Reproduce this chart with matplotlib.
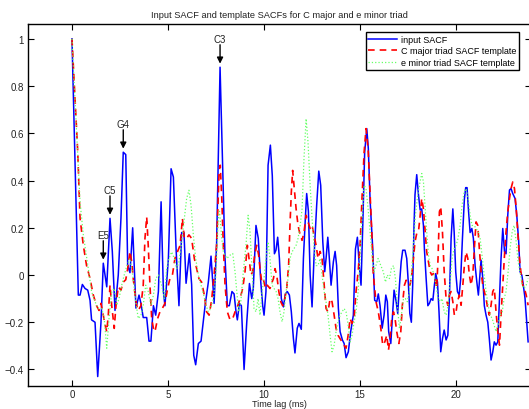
import matplotlib
matplotlib.use('Agg')
import matplotlib.pyplot as plt

plt.rcParams['font.family'] = ['Liberation Sans', 'DejaVu Sans']

# input SACF (time lag in ms, value)
input_t = [0, 0.33, 0.42, 0.54, 0.68, 0.82, 0.94, 1.02, 1.2, 1.34, 1.51, 1.63, 1.81, 1.98,
           2.1, 2.24, 2.41, 2.55, 2.67, 2.8, 2.9, 3.02, 3.16, 3.33, 3.49, 3.59, 3.71, 3.89,
           4.01, 4.11, 4.24, 4.36, 4.5, 4.64, 4.76, 4.84, 5.02, 5.16, 5.28, 5.42, 5.57, 5.71,
           5.83, 5.94, 6.11, 6.23, 6.34, 6.44, 6.58, 6.72, 6.93, 7.1, 7.24, 7.4, 7.53, 7.71,
           7.88, 7.97, 8.09, 8.19, 8.33, 8.44, 8.54, 8.61, 8.72, 8.82, 8.96, 9.1, 9.24, 9.36,
           9.44, 9.58, 9.7, 9.83, 9.93, 10.0, 10.1, 10.21, 10.33, 10.43, 10.54, 10.62, 10.71,
           10.8, 10.9, 11.01, 11.11, 11.21, 11.32, 11.42, 11.53, 11.61, 11.73, 11.82, 11.94,
           12.05, 12.15, 12.22, 12.31, 12.4, 12.5, 12.6, 12.74, 12.85, 12.95, 13.06, 13.16,
           13.23, 13.32, 13.4, 13.49, 13.61, 13.7, 13.78, 13.87, 13.96, 14.08, 14.17, 14.27,
           14.39, 14.51, 14.65, 14.76, 14.86, 14.97, 15.05, 15.14, 15.24, 15.35, 15.43, 15.52,
           15.66, 15.76, 15.87, 15.95, 16.04, 16.15, 16.25, 16.34, 16.42, 16.49, 16.6, 16.7,
           16.77, 16.88, 16.96, 17.05, 17.14, 17.22, 17.34, 17.43, 17.52, 17.59, 17.67, 17.74,
           17.81, 17.86, 17.95, 18.04, 18.13, 18.21, 18.3, 18.35, 18.44, 18.53, 18.61, 18.7,
           18.79, 18.87, 18.94, 19.03, 19.11, 19.2, 19.29, 19.38, 19.48, 19.57, 19.65, 19.74,
           19.83, 19.9, 19.98, 20.07, 20.16, 20.24, 20.33, 20.43, 20.5, 20.57, 20.64, 20.73,
           20.82, 20.9, 20.99, 21.08, 21.16, 21.25, 21.3, 21.39, 21.47, 21.56, 21.65, 21.73,
           21.82, 21.91, 21.99, 22.08, 22.17, 22.26, 22.34, 22.43, 22.52, 22.6, 22.69, 22.78,
           22.86, 22.95, 23.07, 23.16, 23.26, 23.33, 23.42, 23.49, 23.59, 23.68, 23.75]
input_v = [1.0, -0.085, -0.085, -0.04, -0.057, -0.064, -0.107, -0.19, -0.2, -0.43, -0.2, 0.05,
           -0.05, 0.24, 0.1, -0.15, 0.0, 0.24, 0.52, 0.51, 0.04, 0.01, 0.2, -0.14, -0.085,
           -0.12, -0.18, -0.18, -0.28, -0.28, -0.13, -0.17, -0.07, 0.31, -0.07, -0.13, 0.07,
           0.45, 0.415, 0.11, -0.13, 0.18, 0.18, -0.035, 0.09, -0.04, -0.34, -0.38, -0.29,
           -0.28, -0.13, -0.03, 0.08, -0.12, 0.13, 0.88, 0.35, 0.07, -0.13, -0.13, -0.07,
           -0.08, -0.155, -0.19, -0.12, -0.13, -0.4, -0.2, -0.036, -0.1, -0.057, 0.21, 0.155,
           -0.03, -0.13, -0.17, -0.07, 0.465, 0.55, 0.42, 0.09, 0.105, 0.16, 0.07, -0.1,
           -0.135, -0.08, -0.07, -0.085, -0.155, -0.27, -0.33, -0.225, -0.205, -0.23, 0.07,
           0.24, 0.345, 0.27, 0.0, -0.135, 0.07, 0.295, 0.44, 0.38, 0.14, 0.014, 0.07, 0.16,
           0.07, -0.043, 0.056, 0.1, 0.04, -0.14, -0.24, -0.275, -0.29, -0.35, -0.325, -0.24,
           -0.17, 0.11, 0.16, 0.028, -0.043, 0.21, 0.52, 0.62, 0.535, 0.32, 0.11, -0.107,
           -0.113, -0.08, -0.13, -0.225, -0.17, -0.085, -0.113, -0.24, -0.29, -0.155, -0.064,
           -0.113, -0.163, -0.043, 0.056, 0.105, 0.105, 0.07, -0.043, -0.163, -0.2, -0.043,
           0.21, 0.34, 0.425, 0.34, 0.275, 0.28, 0.21, 0.11, -0.015, -0.13, -0.12, -0.1,
           -0.107, -0.043, 0.006, -0.03, -0.155, -0.325, -0.27, -0.233, -0.275, -0.255, -0.1,
           0.155, 0.28, 0.18, 0.014, -0.07, -0.085, -0.015, 0.155, 0.32, 0.37, 0.37, 0.28,
           0.18, 0.197, 0.155, 0.04, -0.03, -0.085, 0.014, 0.063, -0.015, -0.13, -0.17, -0.2,
           -0.27, -0.36, -0.325, -0.283, -0.297, -0.283, -0.1, 0.07, 0.197, 0.1, 0.09, 0.253,
           0.36, 0.366, 0.345, 0.324, 0.253, 0.14, 0.014, 0.0, -0.036, -0.1, -0.2, -0.283]

# C major triad SACF template
cmaj_t = [0, 0.3, 0.42, 0.59, 0.76, 0.94, 1.11, 1.28, 1.41, 1.51, 1.63, 1.72, 1.81, 1.89,
          1.98, 2.07, 2.2, 2.29, 2.41, 2.55, 2.67, 2.8, 2.9, 3.02, 3.11, 3.19, 3.28, 3.37,
          3.45, 3.59, 3.71, 3.8, 3.89, 3.97, 4.06, 4.15, 4.24, 4.32, 4.46, 4.58, 4.7, 4.84,
          4.98, 5.1, 5.23, 5.36, 5.5, 5.63, 5.75, 5.85, 5.97, 6.09, 6.23, 6.37, 6.49, 6.61,
          6.75, 6.89, 7.01, 7.14, 7.27, 7.4, 7.53, 7.66, 7.72, 7.8, 7.88, 7.97, 8.09, 8.23,
          8.37, 8.49, 8.61, 8.75, 8.89, 9.01, 9.13, 9.24, 9.32, 9.41, 9.51, 9.62, 9.72, 9.79,
          9.88, 9.97, 10.07, 10.17, 10.31, 10.42, 10.49, 10.57, 10.66, 10.77, 10.87, 10.97,
          11.08, 11.18, 11.28, 11.35, 11.42, 11.49, 11.56, 11.67, 11.77, 11.88, 11.98, 12.08,
          12.19, 12.29, 12.4, 12.5, 12.6, 12.71, 12.81, 12.92, 13.02, 13.13, 13.23, 13.33,
          13.44, 13.54, 13.65, 13.75, 13.85, 13.96, 14.06, 14.17, 14.27, 14.38, 14.48, 14.58,
          14.69, 14.79, 14.9, 15.0, 15.1, 15.21, 15.31, 15.42, 15.52, 15.61, 15.69, 15.83,
          15.95, 16.08, 16.18, 16.29, 16.39, 16.48, 16.56, 16.65, 16.74, 16.82, 16.91, 17.02,
          17.12, 17.2, 17.31, 17.4, 17.52, 17.6, 17.69, 17.78, 17.86, 17.95, 18.04, 18.13,
          18.21, 18.3, 18.39, 18.47, 18.56, 18.65, 18.73, 18.82, 18.91, 18.99, 19.06, 19.13,
          19.2, 19.29, 19.38, 19.48, 19.57, 19.65, 19.74, 19.83, 19.91, 20.0, 20.07, 20.17,
          20.26, 20.35, 20.43, 20.52, 20.61, 20.69, 20.78, 20.87, 20.95, 21.04, 21.13, 21.21,
          21.3, 21.39, 21.47, 21.56, 21.65, 21.73, 21.82, 21.91, 21.99, 22.08, 22.17, 22.26,
          22.34, 22.43, 22.52, 22.6, 22.69, 22.78, 22.86, 22.95, 23.04, 23.13, 23.21, 23.3,
          23.39, 23.47, 23.56, 23.65, 23.75]
cmaj_v = [1.0, 0.52, 0.24, 0.126, 0.04, -0.015, -0.085, -0.13, -0.15, -0.12, -0.17, -0.21,
          -0.24, -0.17, -0.043, -0.13, -0.226, -0.13, -0.05, -0.064, -0.03, -0.02, 0.027, 0.1,
          0.056, -0.015, -0.08, -0.13, -0.15, -0.13, -0.043, 0.155, 0.246, 0.126, -0.043,
          -0.184, -0.226, -0.24, -0.184, -0.156, -0.142, -0.12, -0.057, -0.015, 0.0, 0.07,
          0.1, 0.126, 0.24, 0.155, 0.155, 0.17, 0.155, 0.07, 0.027, -0.015, -0.03, -0.085,
          -0.156, -0.17, -0.107, 0.0, 0.126, 0.437, 0.465, 0.324, 0.126, -0.043, -0.156, -0.19,
          -0.184, -0.156, -0.135, -0.1, -0.057, 0.014, 0.126, 0.056, 0.0, 0.014, 0.084, 0.126,
          0.084, 0.027, -0.03, -0.02, -0.057, -0.043, -0.057, -0.03, -0.015, 0.027, 0.0, -0.07,
          -0.113, -0.13, -0.1, -0.057, 0.04, 0.21, 0.35, 0.443, 0.38, 0.28, 0.21, 0.17, 0.147,
          0.18, 0.253, 0.225, 0.197, 0.21, 0.17, 0.126, 0.07, 0.1, 0.07, -0.043, -0.142,
          -0.156, -0.1, -0.113, -0.17, -0.226, -0.255, -0.27, -0.283, -0.297, -0.31, -0.255,
          -0.184, -0.205, -0.184, -0.07, 0.014, 0.126, 0.324, 0.52, 0.62, 0.535, 0.35, 0.18,
          0.0, -0.113, -0.156, -0.226, -0.297, -0.283, -0.255, -0.318, -0.27, -0.184, -0.156,
          -0.184, -0.24, -0.29, -0.24, -0.13, -0.043, -0.022, -0.043, -0.043, 0.0, 0.07, 0.14,
          0.176, 0.183, 0.253, 0.324, 0.28, 0.183, 0.098, 0.056, 0.014, 0.0, 0.006, -0.015,
          -0.057, 0.07, 0.267, 0.29, 0.183, 0.014, -0.1, -0.128, -0.085, -0.07, -0.113, -0.17,
          -0.156, -0.113, -0.085, -0.128, -0.043, 0.04, 0.098, 0.07, 0.0, -0.043, 0.0, 0.112,
          0.225, 0.21, 0.112, 0.014, -0.043, -0.07, -0.1, -0.142, -0.17, -0.128, -0.07, -0.057,
          -0.156, -0.24, -0.297, -0.17, -0.043, 0.084, 0.183, 0.267, 0.324, 0.366, 0.394,
          0.366, 0.28, 0.183, 0.07, 0.0, -0.043, -0.057, -0.085, -0.128]

# e minor triad SACF template
emin_t = [0, 0.42, 0.59, 0.85, 1.02, 1.2, 1.37, 1.55, 1.68, 1.81, 1.93, 2.07, 2.2, 2.33,
          2.45, 2.59, 2.72, 2.86, 3.02, 3.19, 3.32, 3.45, 3.59, 3.71, 3.84, 3.97, 4.11, 4.24,
          4.36, 4.5, 4.67, 4.81, 4.93, 5.05, 5.19, 5.33, 5.45, 5.57, 5.71, 5.83, 5.97, 6.09,
          6.2, 6.32, 6.44, 6.58, 6.72, 6.86, 6.98, 7.1, 7.22, 7.36, 7.48, 7.62, 7.68, 7.8,
          7.88, 8.06, 8.23, 8.37, 8.49, 8.58, 8.68, 8.79, 8.92, 9.06, 9.17, 9.27, 9.38, 9.48,
          9.58, 9.69, 9.79, 9.9, 10.0, 10.1, 10.21, 10.31, 10.42, 10.52, 10.63, 10.73, 10.83,
          10.94, 11.04, 11.15, 11.25, 11.35, 11.46, 11.56, 11.67, 11.77, 11.88, 11.98, 12.08,
          12.19, 12.29, 12.4, 12.5, 12.6, 12.71, 12.81, 12.92, 13.02, 13.13, 13.23, 13.33,
          13.44, 13.54, 13.65, 13.75, 13.85, 13.96, 14.06, 14.17, 14.27, 14.38, 14.48, 14.58,
          14.69, 14.79, 14.9, 15.0, 15.1, 15.21, 15.31, 15.42, 15.52, 15.63, 15.73, 15.83,
          15.94, 16.08, 16.21, 16.32, 16.42, 16.53, 16.63, 16.74, 16.84, 16.94, 17.05, 17.15,
          17.26, 17.36, 17.46, 17.57, 17.67, 17.78, 17.88, 17.98, 18.09, 18.21, 18.3, 18.39,
          18.47, 18.56, 18.65, 18.75, 18.85, 18.96, 19.06, 19.17, 19.27, 19.38, 19.48, 19.58,
          19.69, 19.79, 19.9, 20.0, 20.1, 20.21, 20.31, 20.42, 20.52, 20.63, 20.73, 20.83,
          20.94, 21.04, 21.15, 21.25, 21.35, 21.46, 21.56, 21.67, 21.77, 21.88, 21.98, 22.08,
          22.19, 22.29, 22.4, 22.5, 22.6, 22.71, 22.81, 22.92, 23.02, 23.13, 23.23, 23.33,
          23.44, 23.54, 23.65, 23.75]
emin_v = [1.0, 0.31, 0.17, 0.027, -0.07, -0.113, -0.142, -0.142, -0.184, -0.31, -0.184,
          -0.07, -0.057, -0.128, -0.1, -0.043, 0.0, 0.04, 0.07, -0.015, -0.113, -0.184, -0.17,
          -0.128, -0.043, -0.07, -0.128, -0.085, -0.015, 0.0, -0.043, -0.1, 0.027, 0.07, 0.098,
          0.07, 0.027, 0.056, 0.14, 0.225, 0.324, 0.359, 0.295, 0.168, 0.07, 0.0, -0.043,
          -0.085, -0.128, -0.156, -0.142, -0.1, -0.015, 0.24, 0.27, 0.155, 0.098, 0.07, 0.084,
          0.091, 0.014, -0.07, -0.156, -0.113, 0.014, 0.126, 0.253, 0.183, 0.014, -0.142,
          -0.156, -0.1, -0.17, -0.07, -0.015, 0.07, 0.14, 0.07, -0.043, -0.057, -0.07, -0.1,
          -0.156, -0.198, -0.156, -0.07, -0.015, 0.07, 0.098, 0.112, 0.126, 0.155, 0.21, 0.28,
          0.493, 0.662, 0.563, 0.38, 0.24, 0.126, 0.04, 0.04, 0.07, 0.0, -0.07, -0.113, -0.17,
          -0.255, -0.325, -0.297, -0.24, -0.198, -0.17, -0.156, -0.142, -0.156, -0.212, -0.283,
          -0.255, -0.198, -0.156, -0.07, 0.07, 0.24, 0.38, 0.366, 0.28, 0.183, 0.084, 0.014,
          0.04, 0.07, 0.04, 0.014, -0.03, 0.0, -0.015, 0.027, 0.04, -0.015, -0.128, -0.226,
          -0.17, -0.1, -0.1, -0.113, -0.07, 0.0, 0.126, 0.253, 0.324, 0.38, 0.43, 0.394, 0.28,
          0.183, 0.084, 0.04, 0.027, 0.0, -0.043, -0.1, -0.113, -0.1, -0.156, -0.17, -0.128,
          -0.03, 0.07, 0.112, 0.126, 0.155, 0.21, 0.295, 0.352, 0.366, 0.324, 0.253, 0.21,
          0.21, 0.197, 0.183, 0.155, 0.084, 0.0, -0.07, -0.128, -0.17, -0.184, -0.212, -0.24,
          -0.212, -0.17, -0.156, -0.1, -0.07, 0.014, 0.112, 0.183, 0.21, 0.14, 0.056, 0.014,
          -0.043, -0.057, -0.043, -0.015]

# peak labels: name, lag, peak value
peak_names = ['C3', 'G4', 'C5', 'E5']
peak_t = [7.71, 2.67, 1.98, 1.63]
peak_v = [0.88, 0.52, 0.24, 0.05]

fig = plt.figure(figsize=(5.29, 4.10), dpi=100)
ax = fig.add_axes([28 / 529, 23 / 410, 503 / 529, 362 / 410])

ax.plot(input_t, input_v, '-', color='#0000ff', linewidth=1.1, label='input SACF')
ax.plot(cmaj_t, cmaj_v, '--', color='#ff0000', linewidth=1.2, dashes=(4, 3),
        label='C major triad SACF template')
ax.plot(emin_t, emin_v, ':', color='#66ff66', linewidth=0.9,
        label='e minor triad SACF template')

for name, t, v in zip(peak_names, peak_t, peak_v):
    ax.annotate('', xy=(t, v + 0.015), xytext=(t, v + 0.095),
                arrowprops=dict(arrowstyle='-|>', color='k', lw=1.0,
                                mutation_scale=9, shrinkA=0, shrinkB=0))
    ax.text(t, v + 0.1, name, ha='center', va='bottom', fontsize=7, color='#222222')

ax.set_xlim(-2.29, 23.9)
ax.set_ylim(-0.47, 1.063)
ax.set_xticks([0, 5, 10, 15, 20])
ax.set_yticks([-0.4, -0.2, 0, 0.2, 0.4, 0.6, 0.8, 1])
ax.set_yticklabels(['\u22120.4', '\u22120.2', '0', '0.2', '0.4', '0.6', '0.8', '1'])
ax.tick_params(direction='in', top=True, right=True, length=4, width=0.8,
               labelsize=7, labelcolor='#222222', pad=3)
ax.tick_params(axis='x', pad=2)
for s in ax.spines.values():
    s.set_linewidth(1.0)

ax.set_title('Input SACF and template SACFs for C major and e minor triad',
             fontsize=6.7, pad=5, color='#222222')
ax.set_xlabel('Time lag (ms)', fontsize=6.5, color='#222222')
ax.xaxis.set_label_coords(0.5, -0.036)

leg = ax.legend(loc='upper right', bbox_to_anchor=(0.976, 0.978), borderaxespad=0,
                fontsize=6.5, fancybox=False, framealpha=1, edgecolor='k',
                handlelength=3.2, handletextpad=0.4, labelspacing=0.3,
                borderpad=0.3)
leg.get_frame().set_linewidth(1.0)

fig.savefig('out.png', dpi=100)
